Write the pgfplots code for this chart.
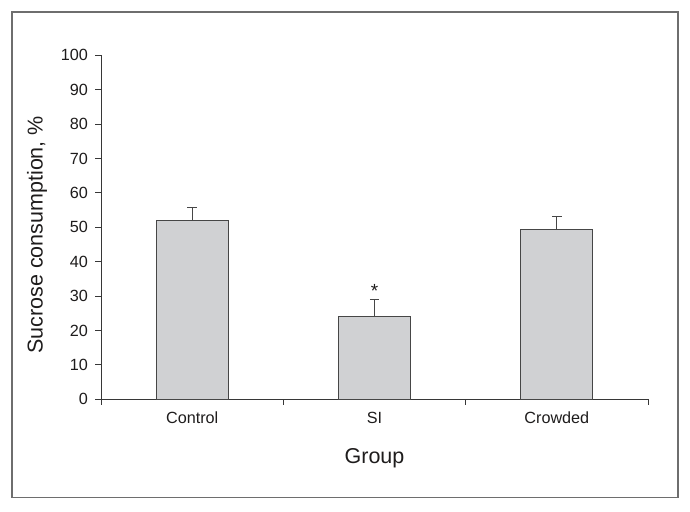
\documentclass[border=0pt]{standalone}
\usepackage{fontspec}
\setmainfont{Liberation Sans}
\usepackage{pgfplots}
\pgfplotsset{compat=1.18}

\definecolor{barfill}{RGB}{208,209,211}
\definecolor{baredge}{RGB}{70,70,70}
\definecolor{axisgray}{RGB}{55,55,55}
\definecolor{framegray}{RGB}{110,110,110}
\definecolor{txt}{RGB}{30,28,28}

\begin{document}
\begin{tikzpicture}
	\useasboundingbox (0,0) rectangle (690pt,511pt);
	\draw[framegray, line width=1.2pt] (12pt,13.5pt) rectangle (678pt,499pt);
	\begin{axis}[
		at={(101pt,111.7pt)},
		anchor=south west,
		scale only axis,
		width=547pt,
		height=344pt,
		ybar,
		bar width=72pt,
		bar shift=0pt,
		xmin=-0.5, xmax=2.5,
		ymin=0, ymax=100,
		axis x line*=bottom,
		axis y line*=left,
		axis line style={axisgray, line width=0.9pt, -},
		tick style={axisgray, line width=0.9pt},
		tick align=outside,
		major tick length=5.5pt,
		xtick={-0.5,0.5,1.5,2.5},
		xticklabels={},
		extra x ticks={0,1,2},
		extra x tick labels={Control,SI,Crowded},
		extra x tick style={major tick length=0pt,
			xticklabel style={anchor=base, yshift=-24.7pt}},
		ytick={0,10,...,100},
		/pgf/number format/assume math mode=true,
		tick label style={font=\fontsize{16.2}{18}\selectfont, text=txt},
		yticklabel style={anchor=east, inner sep=0pt, xshift=-7.5pt},
		xlabel={Group},
		ylabel={Sucrose consumption, \%},
		label style={font=\fontsize{21.5}{24}\selectfont, text=txt},
		xlabel style={at={(axis description cs:0.5,0)}, anchor=base, yshift=-63.7pt},
		ylabel style={at={(axis description cs:-0.117,0.478)}, anchor=center},
		clip=false,
		]
		\addplot+[fill=barfill, draw=baredge, line width=1.1pt,
			error bars/.cd, y dir=plus, y explicit,
			error bar style={baredge, line width=1.1pt},
			error mark options={rotate=90, mark size=4.7pt, baredge, line width=1.1pt}]
			coordinates {(0,52.1) +- (0,3.7) (1,24.0) +- (0,4.9) (2,49.4) +- (0,3.8)};

		% significance marker above SI
		\addplot+[draw=none, fill=none, mark=none,
			nodes near coords={*},
			every node near coord/.style={anchor=base, inner sep=0pt, text=txt,
				font=\fontsize{19}{20}\selectfont}]
			coordinates {(1,29.7)};
	\end{axis}
\end{tikzpicture}
\end{document}
